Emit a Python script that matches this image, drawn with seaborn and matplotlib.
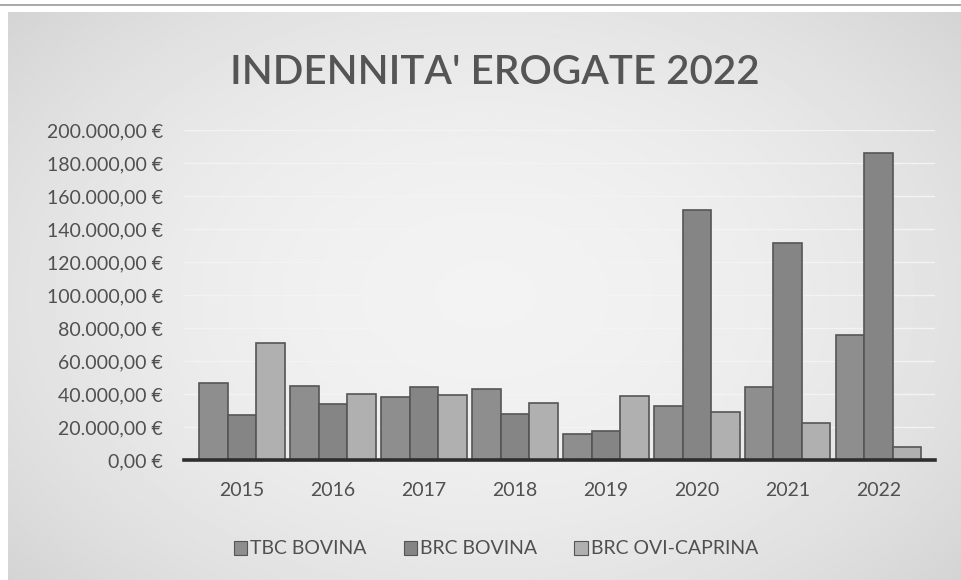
import numpy as np
import pandas as pd
import matplotlib
matplotlib.use("Agg")
import matplotlib.pyplot as plt
from matplotlib.ticker import FuncFormatter
import seaborn as sns

# Indemnities paid per year and per disease programme (EUR)
years = ["2015", "2016", "2017", "2018", "2019", "2020", "2021", "2022"]
series = ["TBC BOVINA", "BRC BOVINA", "BRC OVI-CAPRINA"]
tbc_bovina = [46500, 45000, 38000, 43000, 16000, 33000, 44000, 76000]
brc_bovina = [27000, 34000, 44000, 28000, 17500, 151500, 131500, 186000]
brc_ovicaprina = [71000, 40000, 39500, 34500, 38500, 29000, 22500, 8000]
y_ticks = list(range(0, 200001, 20000))

df = pd.DataFrame({
    "anno": years * 3,
    "serie": [s for s in series for _ in years],
    "valore": tbc_bovina + brc_bovina + brc_ovicaprina,
})

sns.set_theme(style="white")
plt.rcParams["font.family"] = ["Lato", "DejaVu Sans"]

W, H = 962, 580
fig = plt.figure(figsize=(W / 100, H / 100), dpi=100)
fig.patch.set_facecolor("white")

# soft grey vignette behind the chart
bg = fig.add_axes([8 / W, 0, 1 - 8 / W, 1 - 12 / H], zorder=-5)
yy, xx = np.mgrid[-1:1:300j, -1:1:500j]
shade = 0.95 - 0.085 * (0.8 * xx ** 2 + 0.6 * yy ** 2)
bg.imshow(shade, cmap="gray", vmin=0, vmax=1, aspect="auto",
          extent=[0, 1, 0, 1], interpolation="bilinear")
bg.set_axis_off()
# thin rule at the very top of the page
fig.add_artist(plt.Line2D([0, 1], [1 - 5 / H, 1 - 5 / H], color="#9a9a9a",
                          lw=1.2, transform=fig.transFigure))

# plot area
x_left, x_right = 184, 935
y_zero, y_top = 460, 130
ax = fig.add_axes([x_left / W, (H - y_zero) / H,
                   (x_right - x_left) / W, (y_zero - y_top) / H])
ax.set_facecolor("none")

palette = ["#8e8e8e", "#858585", "#b0b0b0"]
sns.barplot(data=df, x="anno", y="valore", hue="serie", order=years,
            hue_order=series, palette=palette, width=0.94, gap=0.0,
            edgecolor="#555555", linewidth=1.2, saturation=1, ax=ax,
            legend=False, zorder=3)

ax.set_xlim(-0.64, 7.62)
ax.set_ylim(0, 200000)
ax.set_yticks(y_ticks)

def euro(v, _):
    s = f"{v:,.2f}".replace(",", "X").replace(".", ",").replace("X", ".")
    return f"{s} €"

ax.yaxis.set_major_formatter(FuncFormatter(euro))
ax.grid(axis="y", color="#f3f3f3", lw=1.0, zorder=0)
ax.grid(axis="x", visible=False)
for side in ["top", "right", "left"]:
    ax.spines[side].set_visible(False)
ax.spines["bottom"].set_color("#2e2e2e")
ax.spines["bottom"].set_linewidth(2.6)
ax.spines["bottom"].set_zorder(5)
ax.tick_params(axis="y", length=0, pad=15, labelsize=14, labelcolor="#505050")
ax.tick_params(axis="x", length=0, pad=16, labelsize=14, labelcolor="#505050")
ax.set_xlabel("")
ax.set_ylabel("")

fig.text(495 / W, 1 - 72 / H, "INDENNITA' EROGATE 2022", ha="center",
         va="center", fontsize=29, fontweight="semibold", color="#555555")

handles = [plt.Rectangle((0, 0), 1, 1, facecolor=c, edgecolor="#555555", lw=0.8)
           for c in palette]
fig.legend(handles, series, loc="center", bbox_to_anchor=(496 / W, 1 - 549 / H),
           ncol=3, frameon=False, fontsize=14, labelcolor="#505050",
           handlelength=0.7, handleheight=0.7, handletextpad=0.15,
           columnspacing=1.9)

fig.savefig("out.png", dpi=100)
